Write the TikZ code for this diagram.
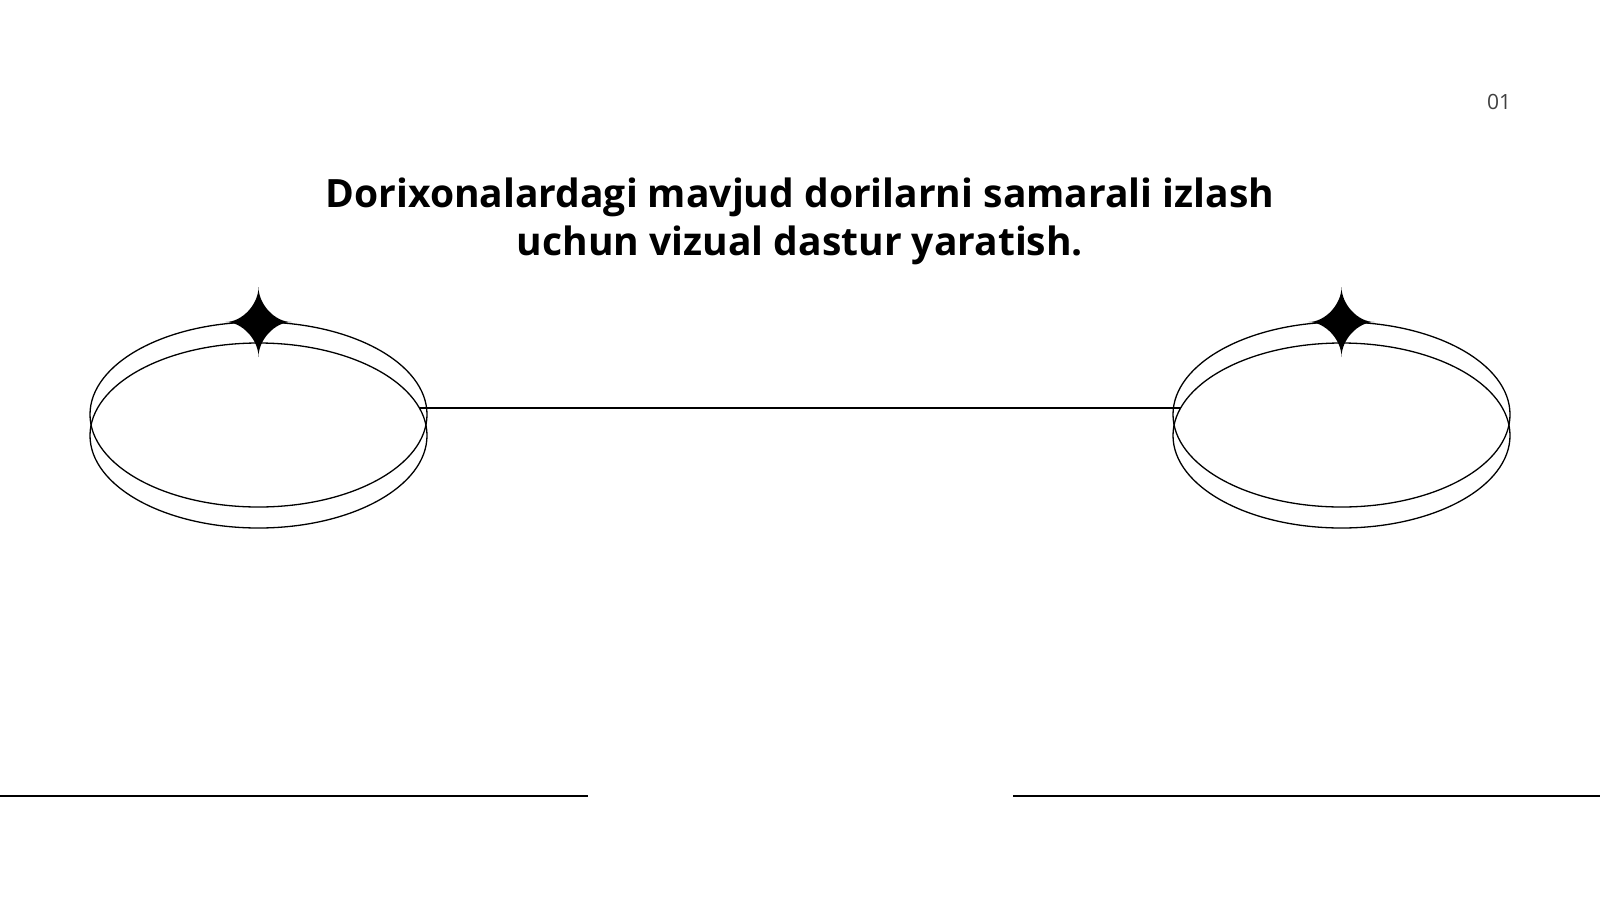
\documentclass[tikz,border=0pt]{standalone}
\usepackage{fontspec}
\setmainfont{Open Sans}
\begin{document}
\begin{tikzpicture}[x=1pt,y=-1pt,
  ring/.style={draw=black,line width=1.3pt},
  rule/.style={draw=black,line width=1.3pt},
  sparkle/.style={fill=black,draw=none}]
\useasboundingbox (0,0) rectangle (1600,900);
% left ellipse pair
\draw[ring] (258.5,414.5) ellipse [x radius=168.5, y radius=92.5];
\draw[ring] (258.5,435.5) ellipse [x radius=168.5, y radius=92.5];
% right ellipse pair
\draw[ring] (1341.5,414.5) ellipse [x radius=168.5, y radius=92.5];
\draw[ring] (1341.5,435.5) ellipse [x radius=168.5, y radius=92.5];
% stars
\foreach \cx in {258.5,1341.5}{
  \fill[sparkle] (\cx,322) ++(0,-35)
    .. controls +(0,17) and +(-17,0) .. ++(33,35)
    .. controls +(-17,0) and +(0,-17) .. ++(-33,35)
    .. controls +(0,-17) and +(17,0) .. ++(-33,-35)
    .. controls +(17,0) and +(0,17) .. cycle;
}
% connector
\coordinate (la) at (419.4,408);
\coordinate (ra) at (1180.6,408);
\draw[rule] (la) -- (ra);
% bottom rules
\coordinate (bl1) at (0,796);
\coordinate (bl2) at (588,796);
\coordinate (br1) at (1013,796);
\coordinate (br2) at (1600,796);
\draw[rule] (bl1) -- (bl2);
\draw[rule] (br1) -- (br2);
% title
\node[align=center,font={\fontsize{39}{48}\selectfont\bfseries},inner sep=0pt] (title) at (800,221)
  {Dorixonalardagi mavjud dorilarni samarali izlash\\uchun vizual dastur yaratish.};
% page number
\node[font={\fontsize{21}{24}\selectfont},text=black!75,inner sep=0pt] (pnum) at (1499,102) {01};
\end{tikzpicture}
\end{document}
